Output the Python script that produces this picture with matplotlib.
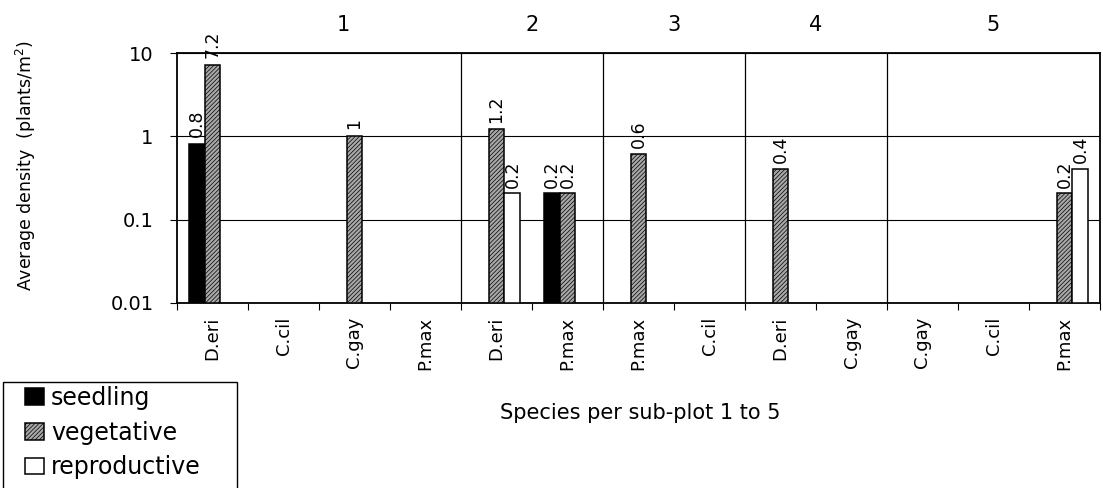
import numpy as np
import matplotlib.pyplot as plt
import matplotlib as mpl
from matplotlib.patches import Rectangle

plt.rcParams["font.family"] = ["DejaVu Sans"]
plt.rcParams["hatch.linewidth"] = 0.5
plt.rcParams["hatch.color"] = "#222222"

# species per sub-plot (x categories)
species = ["D.eri", "C.cil", "C.gay", "P.max",
           "D.eri", "P.max",
           "P.max", "C.cil",
           "D.eri", "C.gay",
           "C.gay", "C.cil", "P.max"]
subplots = ["1", "2", "3", "4", "5"]
group_edges = [4, 6, 8, 10]          # category index where a new sub-plot starts
group_centers = [1.84, 4.5, 6.5, 8.5, 11.0]

nan = np.nan
seedling     = [0.8, nan, nan, nan, nan, 0.2, nan, nan, nan, nan, nan, nan, nan]
vegetative   = [7.2, nan, 1.0, nan, 1.2, 0.2, 0.6, nan, 0.4, nan, nan, nan, 0.2]
reproductive = [nan, nan, nan, nan, 0.2, nan, nan, nan, nan, nan, nan, nan, 0.4]

W, H = 1103, 488
fig = plt.figure(figsize=(W / 100, H / 100), dpi=100)
ax = fig.add_axes([177 / W, 1 - 303 / H, (1100 - 177) / W, 250 / H])

x = np.arange(len(species))
w = 0.225
series = [
    ("seedling", seedling, dict(facecolor="black", edgecolor="black")),
    ("vegetative", vegetative, dict(facecolor="#a8a8a8", edgecolor="black", hatch="////////")),
    ("reproductive", reproductive, dict(facecolor="white", edgecolor="black")),
]
handles = []
for k, (name, vals, style) in enumerate(series):
    vals = np.array(vals, dtype=float)
    xs = x + (k - 1) * w
    h = ax.bar(xs, vals, width=w, bottom=0.01, linewidth=1.1, label=name, zorder=3, **style)
    handles.append(h)
    for xi, v in zip(xs, vals):
        if np.isnan(v):
            continue
        ax.annotate("%g" % v, (xi, v), xytext=(0, 5), textcoords="offset points",
                    rotation=90, ha="center", va="bottom", fontsize=12.5, zorder=4,
                    annotation_clip=False)

ax.set_yscale("log")
ax.set_ylim(0.01, 10)
ax.set_xlim(-0.5, len(species) - 0.5)
ax.set_yticks([0.01, 0.1, 1, 10])
ax.set_yticklabels(["0.01", "0.1", "1", "10"], fontsize=14)
ax.yaxis.set_minor_locator(mpl.ticker.NullLocator())
ax.grid(axis="y", which="major", color="black", linewidth=0.8, zorder=0)

# category ticks on the boundaries, labels in the middle
ax.set_xticks(np.arange(len(species) + 1) - 0.5)
ax.set_xticklabels([])
ax.set_xticks(x, minor=True)
ax.set_xticklabels(species, minor=True, rotation=90, fontsize=13)
ax.tick_params(axis="x", which="minor", length=0, pad=10)
ax.tick_params(axis="x", which="major", length=5, width=0.8, direction="out")
ax.tick_params(axis="y", length=5, width=0.8, direction="out", pad=12)

for e in group_edges:
    ax.axvline(e - 0.5, color="black", linewidth=0.9, zorder=2)

for s in ax.spines.values():
    s.set_linewidth(1.3)

for gx, g in zip(group_centers, subplots):
    ax.text(gx, 1.112, g, transform=ax.get_xaxis_transform(), ha="center", va="center",
            fontsize=15)

ax.set_ylabel("Average density  (plants/m$^2$)", fontsize=12.5)
ax.yaxis.set_label_coords((38 - 177) / 923, 0.55)
fig.text(640 / W, 1 - 413 / H, "Species per sub-plot 1 to 5", ha="center", va="center",
         fontsize=15)

# legend box runs off the bottom edge of the figure
fig.patches.append(Rectangle((3 / W, -0.02), (237 - 3) / W, 0.02 + 1 - 382 / H,
                             transform=fig.transFigure, facecolor="white",
                             edgecolor="black", linewidth=1.0))
leg = fig.legend(handles=handles, loc="upper left", bbox_to_anchor=(25 / W, 1 - 386 / H),
                 frameon=False, fontsize=17,
                 handlelength=0.8, handleheight=0.7, handletextpad=0.3,
                 labelspacing=0.45, borderpad=0, borderaxespad=0)

fig.savefig("out.png", dpi=100)
